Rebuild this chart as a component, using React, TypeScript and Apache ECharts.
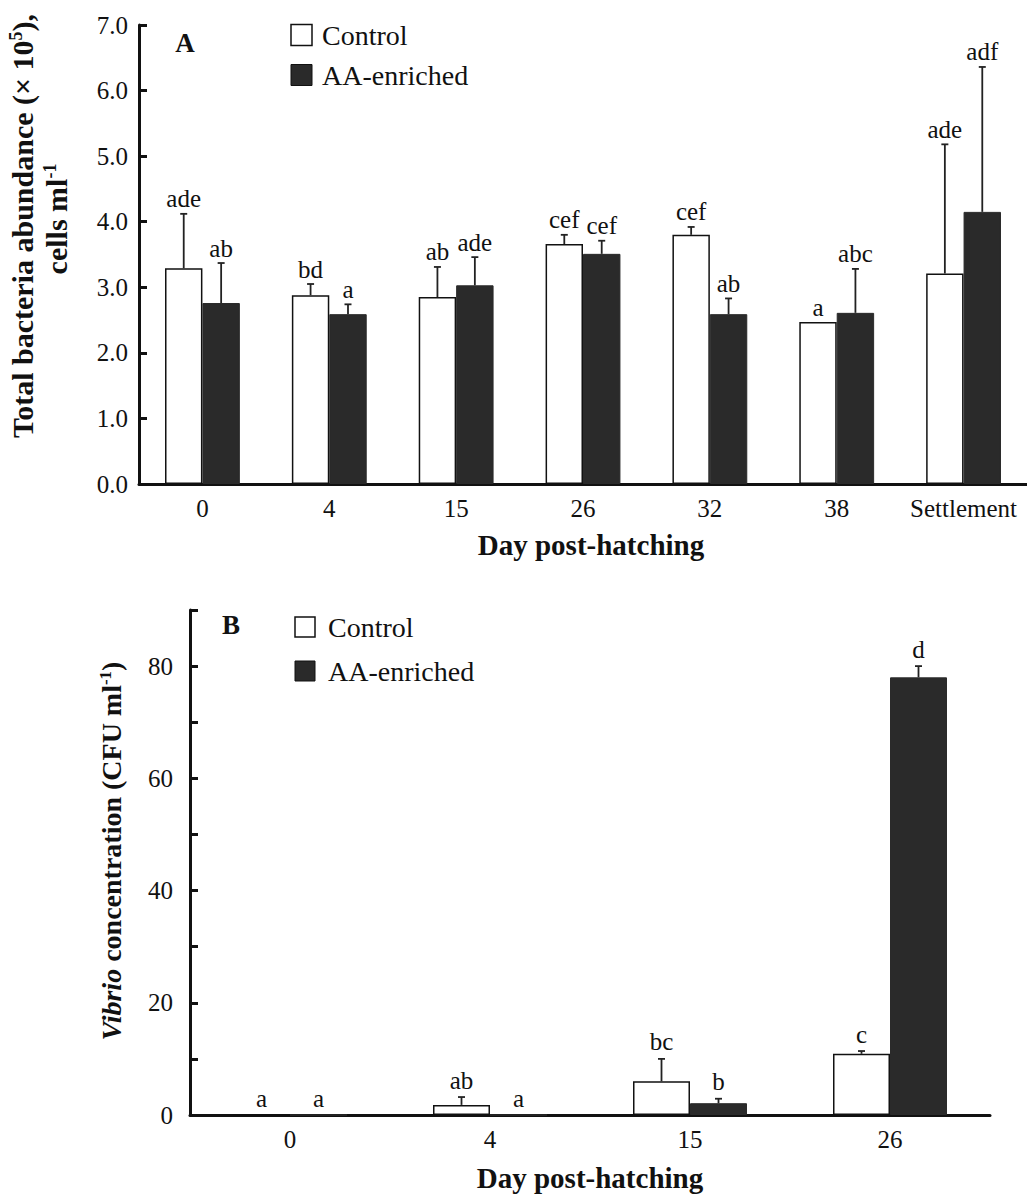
import React, { useEffect, useRef } from "react";
import * as echarts from "echarts";

// ---- Panel A data ----
const catsA = ["0", "4", "15", "26", "32", "38", "Settlement"];
const controlA = [3.29, 2.88, 2.85, 3.66, 3.8, 2.47, 3.21];
const controlAErr = [0.83, 0.17, 0.46, 0.14, 0.12, 0.0, 1.97];
const aaA = [2.76, 2.59, 3.03, 3.51, 2.59, 2.61, 4.15];
const aaAErr = [0.61, 0.15, 0.43, 0.2, 0.24, 0.67, 2.21];
const lettersControlA = ["ade", "bd", "ab", "cef", "cef", "a", "ade"];
const lettersAaA = ["ab", "a", "ade", "cef", "ab", "abc", "adf"];

// ---- Panel B data ----
const catsB = ["0", "4", "15", "26"];
const controlB = [0, 1.8, 6.0, 10.9];
const controlBErr = [0, 1.4, 4.0, 0.5];
const aaB = [0, 0, 2.1, 78.0];
const aaBErr = [0, 0, 0.8, 2.0];
const lettersControlB = ["a", "ab", "bc", "c"];
const lettersAaB = ["a", "a", "b", "d"];

const FONT = "'Liberation Serif', 'Times New Roman', serif";
const INK = "#111";
const DARK = "#2a2a2a";
const GAP_A = 0.41;
const GAP_B = 0.43;

function errSeries(
  xi: number,
  vals: number[],
  errs: number[],
  letters: string[],
  side: number,
  gap: number,
  offset: number,
  fontSize: number
) {
  return {
    type: "custom",
    xAxisIndex: xi,
    yAxisIndex: xi,
    clip: false,
    silent: true,
    z: 5,
    data: vals.map((v, i) => [i, v, v + errs[i]]),
    renderItem: (params: any, api: any) => {
      const i = api.value(0);
      const v = api.value(1);
      const t = api.value(2);
      const bw = api.size([1, 0])[0];
      const barW = (bw * (1 - gap)) / 2;
      const base = api.coord([i, v]);
      const top = api.coord([i, t]);
      const x = base[0] + (side * barW) / 2;
      const children: any[] = [];
      if (t > v) {
        children.push({
          type: "line",
          shape: { x1: x, y1: base[1], x2: x, y2: top[1] },
          style: { stroke: "#222", lineWidth: 1.8 },
        });
        children.push({
          type: "line",
          shape: { x1: x - 3.5, y1: top[1], x2: x + 3.5, y2: top[1] },
          style: { stroke: "#222", lineWidth: 1.8 },
        });
      }
      children.push({
        type: "text",
        x: x,
        y: top[1] - offset,
        style: {
          text: letters[i],
          align: "center",
          verticalAlign: "middle",
          textAlign: "center",
          textVerticalAlign: "middle",
          fontSize: fontSize,
          fontFamily: FONT,
          fill: INK,
        },
      });
      return { type: "group", children };
    },
  };
}

function legendItems(x: number, y1: number, y2: number, size: number, tx: number) {
  return [
    {
      type: "rect",
      shape: { x: x, y: y1 - size / 2, width: size, height: size },
      style: { fill: "#fff", stroke: INK, lineWidth: 1.5 },
    },
    {
      type: "text",
      x: tx,
      y: y1,
      style: { text: "Control", font: `28px ${FONT}`, fill: INK, textAlign: "left", textVerticalAlign: "middle" },
    },
    {
      type: "rect",
      shape: { x: x, y: y2 - size / 2, width: size, height: size },
      style: { fill: DARK, stroke: INK, lineWidth: 1 },
    },
    {
      type: "text",
      x: tx,
      y: y2,
      style: { text: "AA-enriched", font: `28px ${FONT}`, fill: INK, textAlign: "left", textVerticalAlign: "middle" },
    },
  ];
}

function xAxisCfg(cats: string[], gi: number) {
  return {
    type: "category",
    gridIndex: gi,
    data: cats,
    boundaryGap: true,
    axisLine: { lineStyle: { color: INK, width: 3 } },
    axisTick: { inside: true, length: 7, lineStyle: { color: INK, width: 3 }, alignWithLabel: false, interval: 0 },
    axisLabel: { interval: 0, margin: 12, fontSize: 25, fontFamily: FONT, color: INK },
    splitLine: { show: false },
  };
}

export default function App() {
  const ref = useRef<HTMLDivElement>(null);
  useEffect(() => {
    if (!ref.current) return;
    const chart = echarts.init(ref.current, undefined, { renderer: "svg" });
    const option: any = {
      animation: false,
      backgroundColor: "#fff",
      grid: [
        { left: 139, top: 25, width: 895, height: 459 },
        { left: 190, top: 610, width: 800, height: 505 },
      ],
      xAxis: [xAxisCfg(catsA, 0), xAxisCfg(catsB, 1)],
      yAxis: [
        {
          type: "value",
          gridIndex: 0,
          min: 0,
          max: 7,
          interval: 1,
          axisLine: { show: true, lineStyle: { color: INK, width: 3 } },
          axisTick: { show: true, inside: true, length: 8, lineStyle: { color: INK, width: 3 } },
          axisLabel: { margin: 11, fontSize: 25, fontFamily: FONT, color: INK, formatter: (v: number) => v.toFixed(1) },
          splitLine: { show: false },
        },
        {
          type: "value",
          gridIndex: 1,
          min: 0,
          max: 90,
          interval: 10,
          axisLine: { show: true, lineStyle: { color: INK, width: 3 } },
          axisTick: { show: true, inside: true, length: 8, lineStyle: { color: INK, width: 3 } },
          axisLabel: {
            margin: 17,
            fontSize: 25,
            fontFamily: FONT,
            color: INK,
            formatter: (v: number) => (v % 20 === 0 ? String(v) : ""),
          },
          splitLine: { show: false },
        },
      ],
      series: [
        {
          name: "Control",
          type: "bar",
          xAxisIndex: 0,
          yAxisIndex: 0,
          data: controlA,
          barGap: "0%",
          barCategoryGap: GAP_A * 100 + "%",
          itemStyle: { color: "#fff", borderColor: INK, borderWidth: 1.5 },
        },
        {
          name: "AA-enriched",
          type: "bar",
          xAxisIndex: 0,
          yAxisIndex: 0,
          data: aaA,
          barGap: "0%",
          barCategoryGap: GAP_A * 100 + "%",
          itemStyle: { color: DARK, borderColor: DARK, borderWidth: 1 },
        },
        {
          name: "Control",
          type: "bar",
          xAxisIndex: 1,
          yAxisIndex: 1,
          data: controlB,
          barGap: "0%",
          barCategoryGap: GAP_B * 100 + "%",
          itemStyle: { color: "#fff", borderColor: INK, borderWidth: 1.5 },
        },
        {
          name: "AA-enriched",
          type: "bar",
          xAxisIndex: 1,
          yAxisIndex: 1,
          data: aaB,
          barGap: "0%",
          barCategoryGap: GAP_B * 100 + "%",
          itemStyle: { color: DARK, borderColor: DARK, borderWidth: 1 },
        },
        errSeries(0, controlA, controlAErr, lettersControlA, -1, GAP_A, 15, 25),
        errSeries(0, aaA, aaAErr, lettersAaA, 1, GAP_A, 15, 25),
        errSeries(1, controlB, controlBErr, lettersControlB, -1, GAP_B, 17, 25),
        errSeries(1, aaB, aaBErr, lettersAaB, 1, GAP_B, 17, 25),
      ],
      graphic: [
        // panel letters
        {
          type: "text",
          x: 185,
          y: 43,
          style: { text: "A", font: `bold 27px ${FONT}`, fill: INK, textAlign: "center", textVerticalAlign: "middle" },
        },
        {
          type: "text",
          x: 231,
          y: 625,
          style: { text: "B", font: `bold 27px ${FONT}`, fill: INK, textAlign: "center", textVerticalAlign: "middle" },
        },
        ...legendItems(291, 35, 75, 21, 322),
        ...legendItems(295, 627, 671, 20, 328),
        // x axis titles
        {
          type: "text",
          x: 591,
          y: 545,
          style: { text: "Day post-hatching", font: `bold 29px ${FONT}`, fill: INK, textAlign: "center", textVerticalAlign: "middle" },
        },
        {
          type: "text",
          x: 590,
          y: 1178,
          style: { text: "Day post-hatching", font: `bold 29px ${FONT}`, fill: INK, textAlign: "center", textVerticalAlign: "middle" },
        },
        // y axis titles
        {
          type: "text",
          x: 22,
          y: 226,
          rotation: Math.PI / 2,
          style: {
            text: "{b|Total bacteria abundance (× 10}{s|5}{b|),}",
            textAlign: "center",
            textVerticalAlign: "middle",
            fill: INK,
            rich: {
              b: { fontSize: 30, fontWeight: "bold", fontFamily: FONT, fill: INK, color: INK },
              s: { fontSize: 18, fontWeight: "bold", fontFamily: FONT, fill: INK, color: INK, verticalAlign: "top" },
            },
          },
        },
        {
          type: "text",
          x: 56,
          y: 219,
          rotation: Math.PI / 2,
          style: {
            text: "{b|cells ml}{s|-1}",
            textAlign: "center",
            textVerticalAlign: "middle",
            fill: INK,
            rich: {
              b: { fontSize: 30, fontWeight: "bold", fontFamily: FONT, fill: INK, color: INK },
              s: { fontSize: 18, fontWeight: "bold", fontFamily: FONT, fill: INK, color: INK, verticalAlign: "top" },
            },
          },
        },
        {
          type: "text",
          x: 111,
          y: 851,
          rotation: Math.PI / 2,
          style: {
            text: "{i|Vibrio}{b| concentration (CFU ml}{s|-1}{b|)}",
            textAlign: "center",
            textVerticalAlign: "middle",
            fill: INK,
            rich: {
              i: { fontSize: 28, fontWeight: "bold", fontStyle: "italic", fontFamily: FONT, fill: INK, color: INK },
              b: { fontSize: 28, fontWeight: "bold", fontFamily: FONT, fill: INK, color: INK },
              s: { fontSize: 17, fontWeight: "bold", fontFamily: FONT, fill: INK, color: INK, verticalAlign: "top" },
            },
          },
        },
      ],
    };
    chart.setOption(option);
    return () => chart.dispose();
  }, []);
  return (
    <div
      ref={ref}
      style={{ position: "absolute", left: 0, top: 0, width: 1027, height: 1197, background: "#fff" }}
    />
  );
}
